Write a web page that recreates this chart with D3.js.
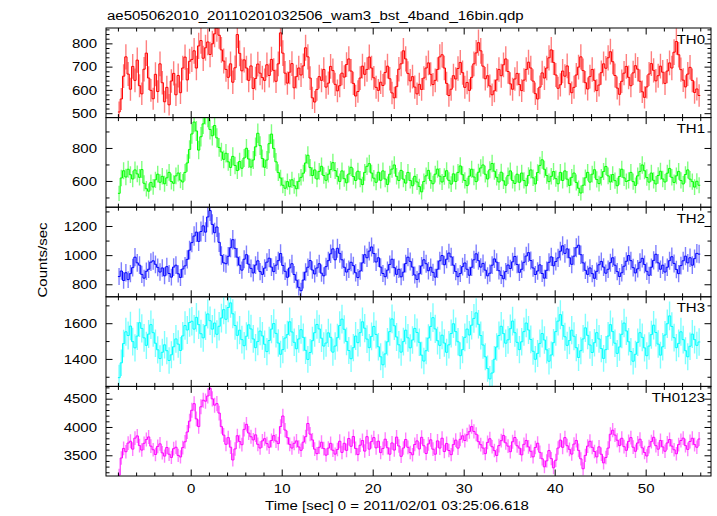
<!DOCTYPE html>
<html><head><meta charset="utf-8">
<script src="https://cdn.jsdelivr.net/npm/d3@7"></script>
<style>
html,body{margin:0;padding:0;background:#fff;}
svg{display:block;}
text{font-family:"Liberation Sans",Arial,Helvetica,sans-serif;fill:#000;}
</style>
</head><body>
<svg id="c" width="717" height="516"></svg>
<script>
const titleText = "ae505062010_20110201032506_wam3_bst_4band_16bin.qdp";
const xLabelText = "Time [sec] 0 = 2011/02/01 03:25:06.618";
const yLabelText = "Counts/sec";
const panelNames = ["TH0", "TH1", "TH2", "TH3", "TH0123"];
const panelColors = ["#ff0000", "#00ff00", "#0000ff", "#00ffff", "#ff00ff"];
const binWidth = 0.25;
const firstBinTime = -7.875;

const th0 = [
505,561,659,742,668,603,701,641,728,618,583,689,758,651,598,562,
667,593,712,631,549,611,536,638,671,579,662,588,694,741,643,723,
731,768,694,789,812,736,781,806,752,798,841,866,835,772,724,688,
654,712,633,695,838,757,682,729,694,641,703,606,649,711,672,653,
641,708,662,731,684,637,712,845,758,672,629,676,713,609,657,694,
664,703,781,742,651,566,548,602,657,641,688,612,629,701,683,624,
596,618,672,655,709,733,681,628,574,593,651,702,667,688,741,694,
652,611,598,633,619,675,702,648,587,566,614,689,712,768,733,671,
639,657,612,583,624,602,651,694,716,667,623,641,688,742,751,694,
628,576,603,661,647,692,718,674,611,632,598,654,712,759,803,768,
702,648,661,617,579,596,643,688,661,708,733,679,626,603,647,671,
623,597,642,688,719,694,638,584,561,612,673,651,694,738,772,718,
664,607,622,681,659,703,627,588,611,664,698,742,683,631,604,657,
688,641,597,621,674,712,693,738,764,721,662,608,581,637,672,701,
654,618,673,704,689,637,592,568,613,668,713,684,639,661,702,676,
628,681,716,694,762,808,751,687,642,613,668,697,641,589,604,576];

const th1 = [
525,618,662,624,671,638,612,667,643,622,669,586,553,538,591,564,
607,641,592,628,583,619,652,597,586,631,648,605,594,652,709,791,
885,957,903,787,868,946,1005,988,912,874,936,861,803,776,731,768,
716,682,749,694,663,718,677,739,798,733,684,727,807,889,814,736,
683,727,826,884,797,716,651,618,574,556,596,565,607,571,553,598,
622,647,709,756,681,633,667,612,658,689,633,604,641,669,711,663,
628,597,661,614,589,642,683,627,603,659,611,578,652,689,705,648,
617,592,653,604,661,612,579,641,672,697,628,603,664,611,587,652,
603,571,628,594,566,534,597,631,664,602,583,641,672,629,594,627,
662,604,581,643,597,652,691,638,603,572,629,671,624,596,653,679,
697,641,612,668,706,659,622,594,653,601,574,632,661,603,585,641,
592,648,603,571,633,667,619,582,651,694,728,671,633,596,628,657,
614,583,652,603,661,611,573,622,648,591,556,527,574,619,652,593,
641,668,609,584,622,657,688,631,594,639,602,571,627,671,619,597,
603,652,596,573,631,658,697,662,621,593,648,604,582,633,659,612,
594,647,676,622,591,631,658,603,582,639,667,611,596,563,598,574];

const th2 = [
853,891,826,879,832,873,914,986,947,931,868,842,889,903,952,961,
937,916,884,912,858,921,874,849,918,931,872,847,905,926,971,1034,
1086,1131,1158,1094,1162,1201,1158,1262,1306,1211,1154,1193,1088,998,947,941,
992,1051,1106,1047,986,931,897,972,1003,938,909,878,932,961,887,868,
911,952,979,918,887,931,962,1011,929,889,848,912,941,867,828,779,
756,829,884,917,963,898,871,912,941,876,858,921,962,1009,1043,968,
1047,1012,968,917,884,903,951,928,879,846,891,947,1003,982,1028,1056,
1011,953,982,918,874,852,897,936,972,914,868,903,851,883,942,986,
957,918,864,833,872,926,968,941,893,917,882,849,903,961,997,934,
972,1014,988,931,887,852,874,921,946,903,862,917,968,1009,962,918,
943,897,858,876,931,974,952,893,861,838,887,932,908,954,991,936,
882,903,951,994,1017,963,912,867,891,933,874,842,896,951,988,927,
956,981,1027,1064,1012,1043,982,937,993,1051,1068,1003,947,896,868,912,
873,841,889,934,957,918,876,903,948,982,931,887,853,879,924,958,
997,962,914,878,906,951,978,936,889,862,917,964,1006,947,903,931,
884,917,962,989,943,902,873,928,961,993,947,982,931,976,1012,1007];

const th3 = [
1295,1378,1486,1552,1531,1584,1497,1462,1528,1603,1571,1518,1476,1539,1592,1547,
1488,1451,1402,1437,1479,1446,1391,1423,1468,1512,1483,1447,1529,1587,1562,1604,
1611,1567,1633,1592,1541,1518,1586,1652,1614,1567,1601,1538,1583,1629,1676,1622,
1688,1714,1653,1587,1532,1561,1508,1474,1527,1591,1568,1512,1463,1498,1556,1529,
1482,1441,1503,1567,1598,1543,1489,1426,1452,1517,1536,1608,1551,1493,1457,1512,
1564,1521,1448,1397,1436,1502,1547,1593,1568,1516,1472,1489,1546,1521,1438,1472,
1519,1587,1623,1566,1498,1447,1401,1463,1528,1491,1547,1608,1572,1511,1463,1526,
1582,1537,1468,1412,1367,1428,1496,1553,1624,1586,1523,1479,1438,1497,1561,1518,
1462,1506,1571,1548,1493,1421,1388,1446,1517,1582,1631,1568,1502,1476,1533,1489,
1437,1479,1542,1597,1553,1496,1418,1452,1521,1567,1534,1589,1627,1658,1594,1531,
1478,1412,1346,1288,1321,1398,1467,1531,1583,1542,1488,1507,1569,1612,1547,1493,
1452,1496,1553,1601,1562,1509,1443,1398,1431,1487,1542,1506,1451,1387,1422,1491,
1553,1612,1648,1587,1524,1476,1503,1561,1527,1463,1408,1446,1512,1574,1532,1478,
1436,1491,1547,1512,1458,1403,1452,1528,1592,1553,1488,1431,1467,1538,1601,1557,
1496,1441,1387,1426,1493,1547,1521,1462,1418,1472,1536,1589,1548,1483,1421,1468,
1534,1597,1641,1582,1519,1463,1487,1552,1508,1446,1412,1471,1539,1508,1476,1495];

const th0123 = [
3150,3452,3621,3563,3716,3748,3609,3803,3842,3671,3592,3712,3778,3824,3661,3598,
3514,3657,3702,3543,3486,3638,3519,3462,3617,3642,3498,3471,3636,3738,3911,4104,
4296,4412,4143,4007,4357,4473,4456,4548,4683,4497,4386,4413,4246,4006,3857,3694,
3812,3643,3417,3612,3846,3742,3687,3958,4047,3893,3827,3772,3861,3694,3628,3754,
3793,3706,3642,3761,3847,3752,3707,4008,4194,3946,3812,3693,3628,3712,3754,3647,
3588,3732,3829,4062,3874,3771,3608,3529,3642,3731,3618,3502,3627,3711,3589,3521,
3603,3748,3551,3712,3587,3796,3659,3832,3621,3512,3678,3761,3574,3829,3608,3742,
3812,3631,3749,3547,3621,3784,3633,3519,3718,3592,3821,3664,3482,3628,3779,3641,
3548,3509,3691,3754,3612,3817,3668,3531,3701,3773,3608,3519,3754,3627,3802,3566,
3709,3584,3511,3689,3768,3627,3783,3844,3761,3862,3918,4007,3921,3872,3741,3687,
3628,3529,3728,3792,3651,3583,3497,3671,3758,3851,3719,3662,3563,3739,3814,3668,
3627,3508,3694,3762,3648,3571,3472,3638,3713,3552,3438,3296,3402,3583,3441,3278,
3412,3628,3768,3641,3812,3669,3604,3521,3698,3762,3587,3437,3262,3498,3662,3748,
3641,3567,3472,3649,3518,3366,3461,3627,3872,3943,3857,3766,3671,3801,3652,3588,
3746,3812,3643,3571,3718,3784,3632,3549,3488,3652,3741,3818,3669,3608,3762,3648,
3572,3718,3779,3662,3597,3527,3689,3761,3803,3671,3604,3744,3801,3689,3642,3788];

const seriesList = [th0, th1, th2, th3, th0123];
const yDomains = [[481, 866], [441, 984], [714, 1329], [1246, 1748], [3134, 4717]];
const yMajorTicks = [[500, 600, 700, 800], [600, 800], [800, 1000, 1200], [1400, 1600], [3500, 4000, 4500]];
const yMinorSteps = [20, 100, 100, 100, 100];
const xDomain = [-9.31, 57.18];
const xMajorTicks = [0, 10, 20, 30, 40, 50];
const xMinorStep = 2;

// ---------- layout ----------
const plotLeft = 106, plotRight = 711, plotTop = 28, plotBottom = 476;
const nPanels = seriesList.length;
const ph = (plotBottom - plotTop) / nPanels;
const SX = 1.25;          // horizontal stretch of text glyphs
const FS = 12;            // font size
const majorLen = 6.5, minorLen = 3.5;

const svg = d3.select("#c");
const x = d3.scaleLinear().domain(xDomain).range([plotLeft, plotRight]);
const times = d3.range(th0.length).map(i => firstBinTime + i * binWidth);
const xMinors = d3.range(Math.ceil(xDomain[0] / xMinorStep) * xMinorStep, xDomain[1], xMinorStep)
  .filter(v => !xMajorTicks.includes(v));

function styleAxis(g) {
  g.select(".domain").remove();
  g.attr("font-family", null).attr("font-size", null);
  g.selectAll("line").attr("stroke", "#000").attr("stroke-width", 1);
  return g;
}

seriesList.forEach((vals, p) => {
  const y0 = plotTop + p * ph, y1 = y0 + ph;
  const y = d3.scaleLinear().domain(yDomains[p]).range([y1, y0]);
  const color = panelColors[p];
  const g = svg.append("g");

  const clipId = "clip" + p;
  svg.append("clipPath").attr("id", clipId)
    .append("rect").attr("x", plotLeft).attr("y", y0).attr("width", plotRight - plotLeft).attr("height", ph);

  const dg = g.append("g").attr("clip-path", `url(#${clipId})`);

  // error bars
  const ep = d3.path();
  vals.forEach((v, i) => {
    const e = Math.sqrt(v / binWidth);
    const xx = x(times[i]);
    ep.moveTo(xx, y(v + e));
    ep.lineTo(xx, y(v - e));
  });
  dg.append("path").attr("d", ep.toString())
    .attr("fill", "none").attr("stroke", color).attr("stroke-width", 1.4).attr("stroke-opacity", 0.5);

  // histogram step line
  const pts = [];
  vals.forEach((v, i) => {
    pts.push([times[i] - binWidth / 2, v]);
    pts.push([times[i] + binWidth / 2, v]);
  });
  dg.append("path").datum(pts)
    .attr("d", d3.line().x(d => x(d[0])).y(d => y(d[1])))
    .attr("fill", "none").attr("stroke", color).attr("stroke-width", 1);

  // y axes
  const yMin = d3.range(Math.ceil(yDomains[p][0] / yMinorSteps[p]) * yMinorSteps[p], yDomains[p][1], yMinorSteps[p])
    .filter(v => !yMajorTicks[p].includes(v));

  const la = styleAxis(g.append("g").attr("transform", `translate(${plotLeft},0)`)
    .call(d3.axisLeft(y).tickValues(yMajorTicks[p]).tickSize(-majorLen).tickPadding(9).tickFormat(d3.format("d"))));
  la.selectAll("text").attr("x", 0).attr("dy", null)
    .attr("transform", `translate(-9,4.2) scale(${SX},1)`)
    .style("font-size", FS + "px").attr("fill", "#000");

  styleAxis(g.append("g").attr("transform", `translate(${plotLeft},0)`)
    .call(d3.axisLeft(y).tickValues(yMin).tickSize(-minorLen).tickFormat("")));
  styleAxis(g.append("g").attr("transform", `translate(${plotRight},0)`)
    .call(d3.axisRight(y).tickValues(yMajorTicks[p]).tickSize(-majorLen).tickFormat("")));
  styleAxis(g.append("g").attr("transform", `translate(${plotRight},0)`)
    .call(d3.axisRight(y).tickValues(yMin).tickSize(-minorLen).tickFormat("")));

  // x axes top and bottom
  styleAxis(g.append("g").attr("transform", `translate(0,${y0})`)
    .call(d3.axisTop(x).tickValues(xMajorTicks).tickSize(-majorLen).tickFormat("")));
  styleAxis(g.append("g").attr("transform", `translate(0,${y0})`)
    .call(d3.axisTop(x).tickValues(xMinors).tickSize(-minorLen).tickFormat("")));
  const bx = styleAxis(g.append("g").attr("transform", `translate(0,${y1})`)
    .call(d3.axisBottom(x).tickValues(xMajorTicks).tickSize(-majorLen).tickPadding(0)
      .tickFormat(p === nPanels - 1 ? d3.format("d") : "")));
  bx.selectAll("text").attr("y", 0).attr("dy", null)
    .attr("transform", `translate(0,${492.7 - y1}) scale(${SX},1)`)
    .style("font-size", FS + "px").attr("fill", "#000");
  styleAxis(g.append("g").attr("transform", `translate(0,${y1})`)
    .call(d3.axisBottom(x).tickValues(xMinors).tickSize(-minorLen).tickFormat("")));

  // frame
  g.append("rect").attr("x", plotLeft).attr("y", y0).attr("width", plotRight - plotLeft).attr("height", ph)
    .attr("fill", "none").attr("stroke", "#000").attr("stroke-width", 1);

  // panel name
  g.append("text").attr("text-anchor", "end")
    .attr("transform", `translate(705,${y0 + 15.5}) scale(${SX},1)`)
    .style("font-size", FS + "px").text(panelNames[p]);
});

// title
svg.append("text").attr("transform", `translate(107,20) scale(${SX},1)`)
  .style("font-size", FS + "px").text(titleText);
// x label
svg.append("text").attr("text-anchor", "middle")
  .attr("transform", `translate(397,510) scale(${SX},1)`)
  .style("font-size", FS + "px").text(xLabelText);
// y label
svg.append("text").attr("text-anchor", "middle")
  .attr("transform", `translate(46.7,260) rotate(-90) scale(${SX},1)`)
  .style("font-size", FS + "px").text(yLabelText);
</script>
</body></html>
